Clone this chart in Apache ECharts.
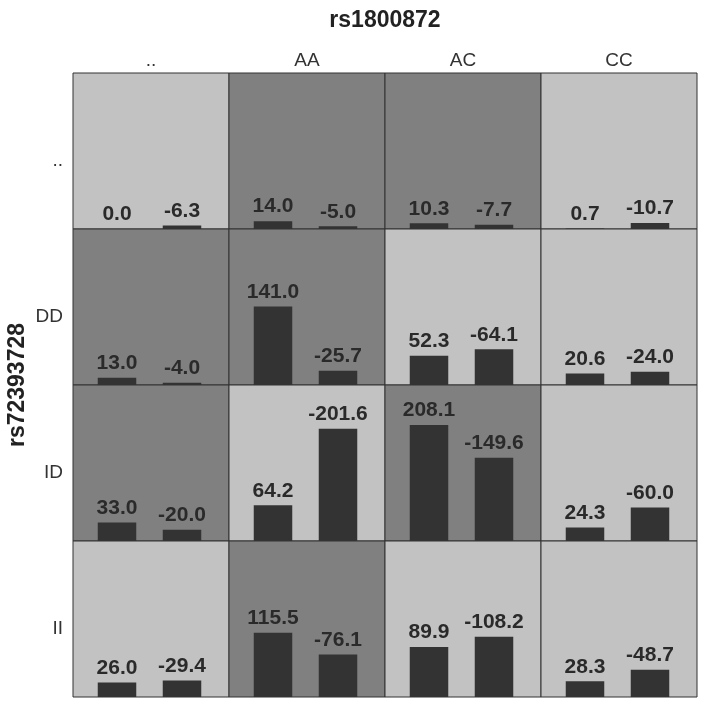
<!DOCTYPE html>
<html>
<head>
<meta charset="utf-8">
<title>rs1800872 x rs72393728</title>
<script src="https://cdn.jsdelivr.net/npm/echarts@6/dist/echarts.min.js"></script>
<style>
  html, body { margin: 0; padding: 0; background: #fff; }
  #chart { width: 706px; height: 708px; }
</style>
</head>
<body>
<div id="chart"></div>
<script>
// genotype labels
const colNames = ["..", "AA", "AC", "CC"];   // rs1800872
const rowNames = ["..", "DD", "ID", "II"];   // rs72393728

// two bars per cell, signed values (bar height = |value|)
const rowDots = [[0.0, -6.3], [14.0, -5.0], [10.3, -7.7], [0.7, -10.7]];
const rowDD = [[13.0, -4.0], [141.0, -25.7], [52.3, -64.1], [20.6, -24.0]];
const rowID = [[33.0, -20.0], [64.2, -201.6], [208.1, -149.6], [24.3, -60.0]];
const rowII = [[26.0, -29.4], [115.5, -76.1], [89.9, -108.2], [28.3, -48.7]];
const cellValues = [rowDots, rowDD, rowID, rowII];

// cell shading: 1 = dark, 0 = light
const cellShade = [
  [0, 1, 1, 0],
  [1, 1, 0, 0],
  [1, 0, 1, 0],
  [0, 1, 0, 0]
];

const chart = echarts.init(document.getElementById("chart"));

const FONT = "Liberation Sans, Arial, sans-serif";
const left0 = 73, top0 = 73, cell = 156;
const yMax = 280;
const grids = [], xAxes = [], yAxes = [], series = [];

for (let r = 0; r < 4; r++) {
  for (let c = 0; c < 4; c++) {
    const x = left0 + c * cell, y = top0 + r * cell;
    const vals = cellValues[r][c];

    // background cell (also carries the row / column labels)
    const bg = grids.length;
    grids.push({
      left: x, top: y, width: cell, height: cell,
      show: true,
      backgroundColor: cellShade[r][c] ? "#808080" : "#c2c2c2",
      borderColor: "#333", borderWidth: 1
    });
    xAxes.push({
      gridIndex: bg, type: "category", position: "top",
      data: [colNames[c]],
      axisLine: { show: false }, axisTick: { show: false },
      axisLabel: { show: r === 0, color: "#333", fontSize: 19, margin: 3,
                   fontFamily: FONT }
    });
    yAxes.push({
      gridIndex: bg, type: "category",
      data: [rowNames[r]],
      axisLine: { show: false }, axisTick: { show: false }, splitLine: { show: false },
      axisLabel: { show: c === 0, color: "#333", fontSize: 19, margin: 10,
                   verticalAlign: "top", fontFamily: FONT }
    });

    // bars
    const g = grids.length;
    grids.push({ left: x + 11.5, top: y, width: 130, height: cell });
    xAxes.push({ gridIndex: g, type: "category", data: ["a", "b"], show: false });
    yAxes.push({ gridIndex: g, type: "value", min: 0, max: yMax, show: false });
    series.push({
      type: "bar",
      xAxisIndex: g, yAxisIndex: g,
      barWidth: 38.5,
      data: vals.map(v => Math.abs(v)),
      itemStyle: { color: "#333333" },
      label: {
        show: true, position: "top", distance: 4,
        color: "#2a2a2a", fontSize: 21, fontWeight: "bold",
        fontFamily: FONT,
        formatter: p => vals[p.dataIndex].toFixed(1)
      },
      silent: true
    });
  }
}

chart.setOption({
  animation: false,
  grid: grids,
  xAxis: xAxes,
  yAxis: yAxes,
  series: series,
  graphic: [
    {
      type: "text", x: 385, y: 21,
      style: { text: "rs1800872", fontSize: 23, fontWeight: "bold",
               fontFamily: FONT, fill: "#222",
               align: "center", verticalAlign: "middle" }
    },
    {
      type: "text", x: 18, y: 385, rotation: Math.PI / 2,
      style: { text: "rs72393728", fontSize: 23, fontWeight: "bold",
               fontFamily: FONT, fill: "#222",
               align: "center", verticalAlign: "middle" }
    }
  ]
});
</script>
</body>
</html>
